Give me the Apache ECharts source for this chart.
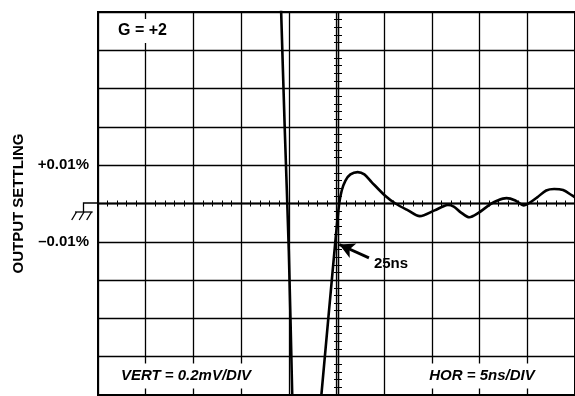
<!DOCTYPE html>
<html><head><meta charset="utf-8">
<script src="https://cdn.jsdelivr.net/npm/echarts@6/dist/echarts.min.js"></script>
<style>html,body{margin:0;padding:0;background:#fff}#c{width:575px;height:396px}</style>
</head><body><div id="c"></div>
<script>
// time in ns (5 ns/div, 0..50 ns across the screen)
const timeNs = [18.83, 19.2, 19.58, 20.0, 20.36, 20.65, 22.3, 23.41, 24.86, 25.28, 25.55, 25.94, 26.46, 27.22, 27.92, 28.68, 30.07, 31.18, 32.5, 33.72, 35.28, 36.15, 36.67, 37.29, 38.02, 38.93, 39.79, 41.18, 41.88, 42.81, 43.75, 44.64, 45.31, 46.04, 46.98, 47.81, 48.75, 49.69, 50.0];
// output settling in % (0.01 %/div)
const settlingPct = [0.08, 0.0499, 0.0191, -0.0123, -0.0501, -0.08, -0.08, -0.0501, -0.0104, -0.0001, 0.0034, 0.0060, 0.0076, 0.0082, 0.0076, 0.0056, 0.0021, 0.0, -0.0018, -0.0033, -0.0018, -0.0008, -0.0004, -0.0008, -0.0023, -0.0036, -0.0026, -0.0001, 0.0008, 0.0014, 0.0008, -0.0005, 0.0003, 0.0016, 0.0034, 0.0038, 0.0035, 0.0021, 0.0016];
const yTickValues = [0.01, -0.01];
const yTickTexts = ['+0.01%', '\u20130.01%'];
const arrowTail = [28.4, -0.0142];
const arrowTip = [25.3, -0.0107];
const arrowText = '25ns';
const titleText = 'G = +2';
const vertText = 'VERT = 0.2mV/DIV';
const horText = 'HOR = 5ns/DIV';
const yName = 'OUTPUT SETTLING';

const FONT = '"Liberation Sans", Arial, sans-serif';
const chart = echarts.init(document.getElementById('c'), null, {renderer: 'canvas'});

const tickAxisX = inside => ({
  type: 'value', min: 0, max: 50, interval: 1, position: 'bottom',
  axisLine: {show: true, onZero: true, lineStyle: {color: '#000', width: 1.3}},
  axisTick: {show: true, inside: inside, length: 3, lineStyle: {color: '#000', width: 1}},
  axisLabel: {show: false}, splitLine: {show: false}
});
const tickAxisY = inside => ({
  type: 'value', min: -0.05, max: 0.05, interval: 0.002, position: 'left', offset: -240,
  axisLine: {show: true, onZero: false, lineStyle: {color: '#000', width: 1.3}},
  axisTick: {show: true, inside: inside, length: 4, lineStyle: {color: '#000', width: 1}},
  axisLabel: {show: false}, splitLine: {show: false}
});

const textEl = (txt, x, y, italic, pad, size) => ({
  type: 'text', z: 100, x: x, y: y,
  style: {
    text: txt, fill: '#000', align: 'center', verticalAlign: 'middle',
    font: (italic ? 'italic ' : '') + 'bold ' + (size || 15) + 'px ' + FONT,
    backgroundColor: pad ? '#fff' : null, padding: pad || 0
  }
});

chart.setOption({
  animation: false,
  backgroundColor: '#fff',
  grid: {left: 98, top: 12, width: 480, height: 383, show: true, borderColor: '#000', borderWidth: 2, backgroundColor: 'transparent'},
  xAxis: [
    {type: 'value', min: 0, max: 50, interval: 5,
     axisLine: {show: false, onZero: false}, axisTick: {show: false}, axisLabel: {show: false},
     splitLine: {show: true, lineStyle: {color: '#000', width: 1.3}}},
    tickAxisX(true), tickAxisX(false)
  ],
  yAxis: [
    {type: 'value', min: -0.05, max: 0.05, interval: 0.01,
     axisLine: {show: false, onZero: false}, axisTick: {show: false},
     axisLabel: {show: true, margin: 9, color: '#000', fontFamily: FONT, fontWeight: 'bold', fontSize: 15,
       formatter: v => { const i = yTickValues.findIndex(t => Math.abs(t - v) < 1e-6); return i >= 0 ? yTickTexts[i] : ''; }},
     splitLine: {show: true, lineStyle: {color: '#000', width: 1.3}},
     name: yName, nameLocation: 'middle', nameRotate: 90, nameGap: 72,
     nameTextStyle: {color: '#000', fontFamily: FONT, fontWeight: 'bold', fontSize: 15}},
    tickAxisY(true), tickAxisY(false)
  ],
  series: [{
    type: 'line', xAxisIndex: 0, yAxisIndex: 0, clip: true,
    data: timeNs.map((t, i) => [t, settlingPct[i]]),
    smooth: 0.3, showSymbol: false, symbol: 'none',
    lineStyle: {color: '#000', width: 2.6},
    z: 5,
    markLine: {
      silent: true, symbol: ['none', 'arrow'], symbolSize: [12, 15],
      label: {show: false},
      lineStyle: {color: '#000', width: 2.8, type: 'solid'},
      data: [[{coord: arrowTail}, {coord: arrowTip}]]
    }
  }],
  graphic: [
    textEl(titleText, 142.5, 31, false, [4, 6], 16),
    textEl(vertText, 186, 376, true, [5, 12]),
    textEl(horText, 482, 376, true, [5, 16]),
    textEl(arrowText, 391, 264, false, null),
    {type: 'polyline', z: 100, shape: {points: [[98, 203], [83.5, 203], [83.5, 212]]}, style: {stroke: '#000', lineWidth: 1.3, fill: null}},
    {type: 'line', z: 100, shape: {x1: 75, y1: 212, x2: 92.7, y2: 212}, style: {stroke: '#000', lineWidth: 1.3}},
    {type: 'line', z: 100, shape: {x1: 76.5, y1: 212, x2: 71.7, y2: 220}, style: {stroke: '#000', lineWidth: 1.3}},
    {type: 'line', z: 100, shape: {x1: 84, y1: 212, x2: 79.2, y2: 220}, style: {stroke: '#000', lineWidth: 1.3}},
    {type: 'line', z: 100, shape: {x1: 91.5, y1: 212, x2: 86.7, y2: 220}, style: {stroke: '#000', lineWidth: 1.3}}
  ]
});
</script>
</body></html>
